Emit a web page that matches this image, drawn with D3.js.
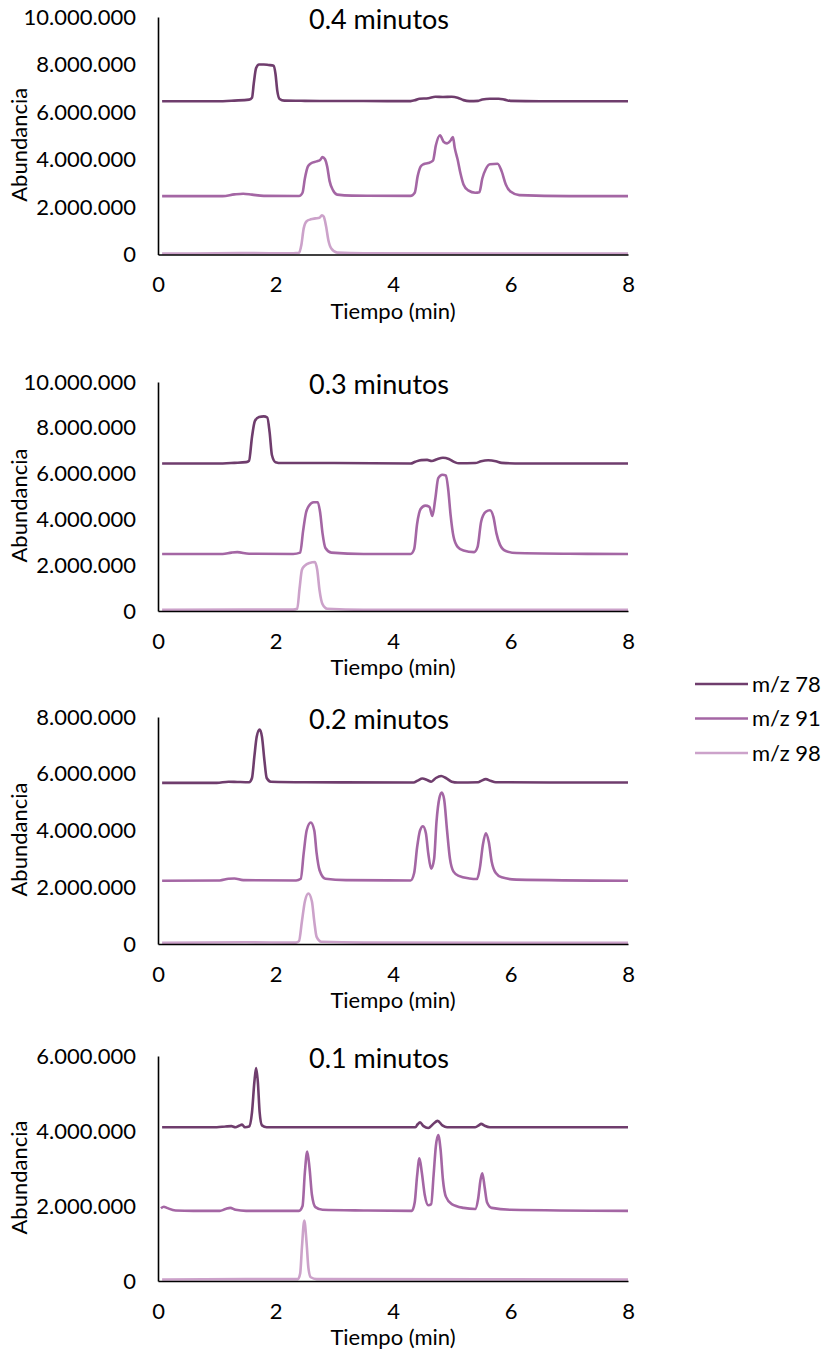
<!DOCTYPE html>
<html>
<head>
<meta charset="utf-8">
<script src="https://cdn.jsdelivr.net/npm/d3@7"></script>
<style>
  body { margin: 0; background: #fff; }
  text { font-family: Lato, "Open Sans", sans-serif; fill: #000; }
</style>
</head>
<body>
<svg id="chart" width="829" height="1352"></svg>
<script>
// ---- data (time in min, abundance in millions) ----
var seriesNames = ["m/z 78", "m/z 91", "m/z 98"];
var titles = ["0.4 minutos", "0.3 minutos", "0.2 minutos", "0.1 minutos"];
var yMax = [10, 10, 8, 6];
var xTicks = [0, 2, 4, 6, 8];

// 0.4 minutos
var p04_78 = [[0.07,6.45],[1.0,6.45],[1.3,6.48],[1.55,6.52],[1.6,6.6],[1.63,7.2],[1.67,7.85],[1.72,8.0],[1.8,8.0],[1.88,7.98],[1.97,7.95],[2.0,7.6],[2.03,6.9],[2.07,6.55],[2.15,6.48],[2.5,6.47],[3.5,6.46],[4.3,6.46],[4.38,6.5],[4.45,6.56],[4.6,6.58],[4.72,6.64],[4.85,6.63],[5.0,6.64],[5.1,6.6],[5.2,6.5],[5.3,6.46],[5.45,6.47],[5.52,6.53],[5.65,6.56],[5.8,6.56],[5.9,6.52],[6.0,6.47],[6.5,6.45],[8.0,6.45]];
var p04_91 = [[0.07,2.46],[1.1,2.46],[1.3,2.53],[1.45,2.56],[1.6,2.52],[1.8,2.47],[2.4,2.46],[2.46,2.6],[2.5,3.2],[2.55,3.7],[2.6,3.83],[2.7,3.92],[2.76,3.98],[2.8,4.1],[2.84,4.02],[2.88,3.7],[2.92,3.1],[2.98,2.7],[3.05,2.52],[3.3,2.48],[4.3,2.47],[4.37,2.6],[4.42,3.3],[4.47,3.7],[4.52,3.8],[4.6,3.85],[4.68,3.95],[4.73,4.6],[4.8,5.02],[4.86,4.75],[4.92,4.68],[4.98,4.8],[5.02,4.95],[5.05,4.5],[5.1,4.0],[5.15,3.4],[5.2,2.95],[5.28,2.7],[5.4,2.6],[5.47,2.62],[5.52,3.2],[5.58,3.6],[5.65,3.8],[5.78,3.82],[5.85,3.5],[5.92,2.95],[6.0,2.65],[6.15,2.5],[7.0,2.46],[8.0,2.46]];
var p04_98 = [[0.07,0.04],[1.0,0.05],[1.5,0.06],[2.3,0.05],[2.4,0.07],[2.44,0.4],[2.48,1.1],[2.53,1.4],[2.6,1.48],[2.68,1.52],[2.75,1.55],[2.79,1.65],[2.82,1.6],[2.86,1.2],[2.9,0.6],[2.95,0.25],[3.05,0.08],[3.5,0.05],[8.0,0.04]];

// 0.3 minutos
var p03_78 = [[0.07,6.44],[1.0,6.44],[1.3,6.47],[1.5,6.5],[1.55,6.56],[1.6,7.6],[1.65,8.3],[1.72,8.47],[1.8,8.5],[1.86,8.45],[1.9,7.8],[1.94,6.8],[2.0,6.5],[2.1,6.46],[3.0,6.46],[4.3,6.44],[4.38,6.52],[4.48,6.59],[4.58,6.6],[4.66,6.55],[4.75,6.63],[4.85,6.69],[4.95,6.64],[5.05,6.5],[5.12,6.45],[5.4,6.46],[5.5,6.54],[5.62,6.58],[5.75,6.54],[5.85,6.47],[6.2,6.44],[8.0,6.44]];
var p03_91 = [[0.07,2.49],[1.1,2.49],[1.25,2.55],[1.35,2.57],[1.55,2.5],[2.3,2.49],[2.42,2.55],[2.47,3.5],[2.52,4.3],[2.57,4.6],[2.65,4.75],[2.72,4.75],[2.76,4.3],[2.8,3.4],[2.85,2.75],[2.95,2.55],[3.5,2.49],[4.3,2.49],[4.36,2.7],[4.41,3.8],[4.47,4.45],[4.55,4.6],[4.62,4.55],[4.67,4.15],[4.72,4.9],[4.77,5.8],[4.84,5.95],[4.9,5.92],[4.94,5.3],[4.98,4.2],[5.03,3.25],[5.1,2.8],[5.2,2.64],[5.38,2.57],[5.44,2.8],[5.5,3.9],[5.58,4.33],[5.65,4.4],[5.71,4.1],[5.76,3.4],[5.82,2.9],[5.92,2.62],[6.1,2.53],[7.0,2.5],[8.0,2.49]];
var p03_98 = [[0.07,0.05],[1.5,0.06],[2.3,0.06],[2.37,0.1],[2.41,1.0],[2.45,1.8],[2.5,1.98],[2.58,2.1],[2.67,2.14],[2.71,1.8],[2.75,0.9],[2.8,0.3],[2.88,0.1],[3.5,0.05],[8.0,0.05]];

// 0.2 minutos
var p02_78 = [[0.07,5.68],[1.0,5.68],[1.2,5.72],[1.35,5.71],[1.55,5.7],[1.6,5.85],[1.64,6.6],[1.68,7.3],[1.73,7.56],[1.77,7.3],[1.81,6.5],[1.85,5.85],[1.92,5.72],[2.5,5.7],[4.35,5.69],[4.42,5.76],[4.5,5.83],[4.58,5.78],[4.65,5.72],[4.73,5.85],[4.82,5.92],[4.9,5.85],[5.0,5.72],[5.1,5.69],[5.45,5.7],[5.5,5.75],[5.58,5.81],[5.66,5.75],[5.75,5.7],[8.0,5.69]];
var p02_91 = [[0.07,2.23],[1.05,2.24],[1.2,2.3],[1.3,2.31],[1.45,2.25],[2.35,2.24],[2.43,2.3],[2.48,3.2],[2.53,4.0],[2.6,4.28],[2.66,4.0],[2.7,3.2],[2.75,2.6],[2.85,2.3],[3.2,2.25],[4.3,2.24],[4.36,2.5],[4.41,3.4],[4.46,4.0],[4.51,4.15],[4.56,3.9],[4.6,3.2],[4.65,2.65],[4.7,3.0],[4.74,4.3],[4.79,5.15],[4.83,5.34],[4.87,5.1],[4.92,4.0],[4.97,3.0],[5.03,2.55],[5.12,2.4],[5.3,2.31],[5.43,2.29],[5.48,2.7],[5.53,3.5],[5.58,3.9],[5.63,3.6],[5.68,2.9],[5.75,2.5],[5.85,2.35],[6.1,2.27],[8.0,2.23]];
var p02_98 = [[0.07,0.04],[1.5,0.06],[2.35,0.05],[2.4,0.1],[2.45,0.8],[2.5,1.5],[2.56,1.78],[2.62,1.5],[2.66,0.8],[2.7,0.25],[2.78,0.08],[3.5,0.05],[8.0,0.04]];

// 0.1 minutos
var p01_78 = [[0.07,4.1],[1.0,4.1],[1.15,4.12],[1.25,4.13],[1.32,4.1],[1.38,4.14],[1.43,4.17],[1.48,4.1],[1.55,4.12],[1.6,4.5],[1.64,5.3],[1.67,5.68],[1.7,5.3],[1.73,4.5],[1.77,4.15],[1.85,4.1],[2.5,4.1],[4.38,4.1],[4.42,4.18],[4.46,4.23],[4.52,4.13],[4.6,4.08],[4.68,4.18],[4.76,4.27],[4.84,4.15],[4.92,4.1],[5.4,4.1],[5.46,4.15],[5.5,4.19],[5.56,4.14],[5.65,4.1],[8.0,4.1]];
var p01_91 = [[0.05,1.94],[0.1,1.98],[0.15,1.95],[0.3,1.88],[0.6,1.87],[1.05,1.87],[1.15,1.92],[1.23,1.95],[1.32,1.9],[1.5,1.87],[2.4,1.87],[2.46,2.0],[2.5,2.9],[2.54,3.45],[2.58,3.0],[2.62,2.3],[2.68,1.97],[2.8,1.9],[3.5,1.88],[4.32,1.87],[4.37,2.1],[4.41,2.8],[4.45,3.27],[4.49,2.9],[4.54,2.3],[4.6,2.02],[4.65,2.05],[4.69,2.8],[4.73,3.6],[4.77,3.89],[4.81,3.5],[4.85,2.7],[4.9,2.25],[5.0,2.05],[5.2,1.95],[5.4,1.92],[5.45,2.2],[5.49,2.7],[5.52,2.87],[5.56,2.5],[5.6,2.1],[5.68,1.95],[6.0,1.9],[8.0,1.87]];
var p01_98 = [[0.07,0.04],[1.5,0.05],[2.38,0.05],[2.42,0.2],[2.45,0.9],[2.49,1.61],[2.53,1.0],[2.56,0.35],[2.6,0.1],[2.7,0.05],[8.0,0.04]];

var panelSeries = [
  [p04_78, p04_91, p04_98],
  [p03_78, p03_91, p03_98],
  [p02_78, p02_91, p02_98],
  [p01_78, p01_91, p01_98]
];

// ---- layout ----
var colors = ["#6f3d6d", "#a466a4", "#cca2ca"];
var x0 = 158, x1 = 628;
var panelTop = [17, 382, 717, 1056];
var panelBottom = [254.5, 611, 944, 1281];

var svg = d3.select("#chart");
var locale = d3.formatLocale({decimal: ",", thousands: ".", grouping: [3], currency: ["", ""]});
var fmt = locale.format(",d");

function translate(x, y) { return "translate(" + x + "," + y + ")"; }

panelSeries.forEach(function(series, i) {
  var g = svg.append("g");
  var x = d3.scaleLinear().domain([0, 8]).range([x0, x1]);
  var y = d3.scaleLinear().domain([0, yMax[i]]).range([panelBottom[i], panelTop[i]]);

  // series lines
  var line = d3.line()
    .x(function(d) { return x(d[0]); })
    .y(function(d) { return y(d[1]); })
    .curve(d3.curveMonotoneX);

  // draw light first so darker lines sit on top
  [2, 1, 0].forEach(function(k) {
    g.append("path")
      .datum(series[k])
      .attr("d", line)
      .attr("fill", "none")
      .attr("stroke", colors[k])
      .attr("stroke-width", 2.6)
      .attr("stroke-linejoin", "round");
  });

  // y axis
  var yTicks = d3.range(0, yMax[i] + 1, 2);
  var yAxis = g.append("g")
    .attr("transform", translate(x0, 0))
    .call(d3.axisLeft(y).tickValues(yTicks).tickSize(0).tickPadding(22)
      .tickFormat(function(d) { return fmt(d * 1e6); }));
  yAxis.select(".domain").attr("stroke", "#000").attr("stroke-width", 1.6);
  yAxis.selectAll("text").style("font-size", "22px").attr("fill", "#000");

  // x axis
  var xAxis = g.append("g")
    .attr("transform", translate(0, panelBottom[i]))
    .call(d3.axisBottom(x).tickValues(xTicks).tickSize(0).tickPadding(22));
  xAxis.select(".domain").attr("stroke", "#000").attr("stroke-width", 1.6);
  xAxis.selectAll("text").style("font-size", "22px").attr("fill", "#000");

  // axis titles
  g.append("text")
    .text("Tiempo (min)")
    .attr("x", (x0 + x1) / 2)
    .attr("y", panelBottom[i] + 64)
    .style("text-anchor", "middle")
    .style("font-size", "22px");

  g.append("text")
    .text("Abundancia")
    .attr("transform", translate(27, (panelTop[i] + panelBottom[i]) / 2 + 9) + " rotate(-90)")
    .style("text-anchor", "middle")
    .style("font-size", "22px");

  // panel title
  g.append("text")
    .text(titles[i])
    .attr("x", 379)
    .attr("y", panelTop[i] + 12)
    .style("text-anchor", "middle")
    .style("font-size", "27px");
});

// legend
var legend = svg.append("g").attr("transform", translate(695, 684));
seriesNames.forEach(function(name, k) {
  var row = legend.append("g").attr("transform", translate(0, k * 34.5));
  row.append("line")
    .attr("x1", 0).attr("x2", 53)
    .attr("y1", 0).attr("y2", 0)
    .attr("stroke", colors[k])
    .attr("stroke-width", 2.6);
  row.append("text")
    .text(name)
    .attr("x", 57)
    .attr("y", 0)
    .attr("dy", "0.35em")
    .style("font-size", "22px");
});
</script>
</body>
</html>
